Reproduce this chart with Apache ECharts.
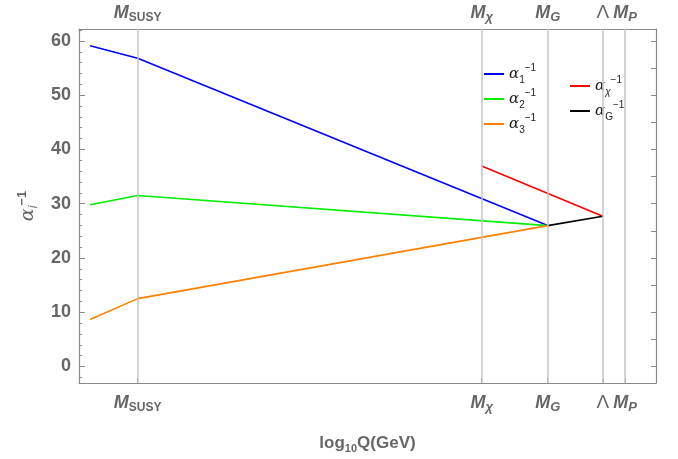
<!DOCTYPE html>
<html>
<head>
<meta charset="utf-8">
<script src="https://cdn.jsdelivr.net/npm/echarts@6/dist/echarts.min.js"></script>
<style>
  html, body { margin: 0; padding: 0; background: #fff; }
  #chart { width: 678px; height: 459px; }
</style>
</head>
<body>
<div id="chart"></div>
<script>
// scale positions, log10 Q
const scaleNames = ['SUSY', 'CHI', 'G', 'LAMBDA', 'P']
const scaleValues = [3.5, 14.49, 16.6, 18.36, 19.07]

// running couplings (x, alpha^-1)
const xLow = [1.98, 3.5, 16.6]
const alpha1 = [59.1, 56.8, 25.96]
const alpha2 = [29.8, 31.5, 25.96]
const alpha3 = [8.67, 12.5, 25.96]
const xChi = [14.49, 18.36]
const alphaChi = [36.96, 27.7]
const xGut = [16.6, 18.36]
const alphaGut = [25.96, 27.7]

const yMajor = [0, 10, 20, 30, 40, 50, 60]
const yRight = [0, 5, 10, 15, 20, 25, 30, 35, 40, 45, 50, 55, 60]
const yMinor = [-2, 2, 4, 6, 8, 12, 14, 16, 18, 22, 24, 26, 28, 32, 34, 36, 38, 42, 44, 46, 48, 52, 54, 56, 58, 62]

const gray = '#666'
const frame = '#8a8a8a'
const font = 'Liberation Sans'

function pairs(xs, ys) {
  return xs.map((x, i) => [x, ys[i]])
}

const scaleLabel = {
  SUSY: '{m|M}{s|SUSY}',
  CHI: '{m|M}{si|χ}',
  G: '{m|M}{si|G}',
  LAMBDA: '{l|Λ}',
  P: '{m|M}{si|P}'
}

function labelFor(v) {
  let best = 0
  scaleValues.forEach((s, i) => {
    if (Math.abs(s - v) < Math.abs(scaleValues[best] - v)) best = i
  })
  return scaleLabel[scaleNames[best]]
}

const labelRich = {
  m: { fontSize: 18, fontWeight: 'bold', fontStyle: 'italic', color: gray, fontFamily: font, lineHeight: 22 },
  l: { fontSize: 19, color: gray, fontFamily: font, lineHeight: 22 },
  s: { fontSize: 12, fontWeight: 'bold', color: gray, fontFamily: font, lineHeight: 10, verticalAlign: 'bottom' },
  si: { fontSize: 13, fontWeight: 'bold', fontStyle: 'italic', color: gray, fontFamily: font, lineHeight: 10, verticalAlign: 'bottom' }
}

const legendRich = {
  a: { fontSize: 15, fontStyle: 'italic', color: '#222', fontFamily: 'DejaVu Serif', lineHeight: 22 },
  s: { fontSize: 10, color: '#222', fontFamily: font, lineHeight: 8, verticalAlign: 'bottom' },
  si: { fontSize: 10, fontStyle: 'italic', color: '#222', fontFamily: font, lineHeight: 8, verticalAlign: 'bottom' },
  p: { fontSize: 10, color: '#222', fontFamily: font, lineHeight: 12, verticalAlign: 'top' }
}

const legendText = {
  a1: '{a|α}{s|1}{p|−1}',
  a2: '{a|α}{s|2}{p|−1}',
  a3: '{a|α}{s|3}{p|−1}',
  ax: '{a|α}{si|χ}{p|−1}',
  ag: '{a|α}{s|G}{p|−1}'
}

const chart = echarts.init(document.getElementById('chart'))

function xAxisOf(pos) {
  return {
    type: 'value',
    position: pos,
    min: 1.625,
    max: 20.06,
    axisLine: { show: true, onZero: false, lineStyle: { color: frame, width: 1.2 } },
    axisTick: { show: pos === 'bottom', inside: true, length: 5, customValues: scaleValues, lineStyle: { color: frame } },
    splitLine: { show: false },
    axisLabel: {
      customValues: scaleValues,
      margin: pos === 'bottom' ? 9 : 5,
      formatter: labelFor,
      rich: labelRich
    }
  }
}

function yAxisOf(pos, ticks, len, labels) {
  return {
    type: 'value',
    position: pos,
    min: -3.05,
    max: 62.2,
    axisLine: { show: true, onZero: false, lineStyle: { color: frame, width: 1.2 } },
    axisTick: { show: true, inside: true, length: len, customValues: ticks, lineStyle: { color: frame } },
    splitLine: { show: false },
    axisLabel: {
      show: labels,
      customValues: yMajor,
      margin: 8,
      fontSize: 18,
      fontWeight: 'bold',
      color: gray,
      fontFamily: font
    }
  }
}

const leftAxis = yAxisOf('left', yMajor, 6, true)
leftAxis.name = '{a|α}{s|i}{p|−1}'
leftAxis.nameLocation = 'middle'
leftAxis.nameGap = 36
leftAxis.nameTextStyle = {
  padding: [10, 0, 0, 0],
  rich: {
    a: { fontSize: 19, fontStyle: 'italic', color: gray, fontFamily: 'DejaVu Serif', lineHeight: 24 },
    s: { fontSize: 12, fontStyle: 'italic', color: gray, fontFamily: font, lineHeight: 10, verticalAlign: 'bottom' },
    p: { fontSize: 13, fontWeight: 'bold', color: gray, fontFamily: font, lineHeight: 12, verticalAlign: 'top' }
  }
}

const minorAxis = yAxisOf('left', yMinor, 3, false)
minorAxis.axisLine.show = false

const bottomAxis = xAxisOf('bottom')
bottomAxis.name = '{a|log}{s|10}{a|Q(GeV)}'
bottomAxis.nameLocation = 'middle'
bottomAxis.nameGap = 49
bottomAxis.nameTextStyle = {
  rich: {
    a: { fontSize: 17, fontWeight: 'bold', color: gray, fontFamily: font, lineHeight: 22 },
    s: { fontSize: 11, fontWeight: 'bold', color: gray, fontFamily: font, lineHeight: 10, verticalAlign: 'bottom' }
  }
}

function lineSeries(name, color, data) {
  return {
    name: name,
    type: 'line',
    data: data,
    symbol: 'none',
    z: 3,
    lineStyle: { color: color, width: 1.6 },
    itemStyle: { color: color }
  }
}

chart.setOption({
  backgroundColor: '#fff',
  animation: false,
  grid: { left: 79, right: 22, top: 29, bottom: 74 },
  legend: [
    {
      data: ['a1', 'a2', 'a3'],
      orient: 'vertical',
      left: 484,
      top: 63,
      padding: 0,
      itemGap: 3,
      itemWidth: 20,
      itemHeight: 2,
      icon: 'rect',
      formatter: n => legendText[n],
      textStyle: { rich: legendRich }
    },
    {
      data: ['ax', 'ag'],
      orient: 'vertical',
      left: 570,
      top: 75,
      padding: 0,
      itemGap: 3,
      itemWidth: 20,
      itemHeight: 2,
      icon: 'rect',
      formatter: n => legendText[n],
      textStyle: { rich: legendRich }
    }
  ],
  xAxis: [bottomAxis, xAxisOf('top')],
  yAxis: [leftAxis, yAxisOf('right', yRight, 5, false), minorAxis],
  series: [
    {
      type: 'line',
      data: [],
      z: 1,
      markLine: {
        silent: true,
        symbol: 'none',
        label: { show: false },
        lineStyle: { color: '#c4c4c4', width: 1.5, type: 'solid' },
        data: scaleValues.map(v => ({ xAxis: v }))
      }
    },
    lineSeries('a1', '#0000ff', pairs(xLow, alpha1)),
    lineSeries('a2', '#00ee00', pairs(xLow, alpha2)),
    lineSeries('a3', '#ff8000', pairs(xLow, alpha3)),
    lineSeries('ax', '#ff0000', pairs(xChi, alphaChi)),
    lineSeries('ag', '#000000', pairs(xGut, alphaGut))
  ]
})
</script>
</body>
</html>
